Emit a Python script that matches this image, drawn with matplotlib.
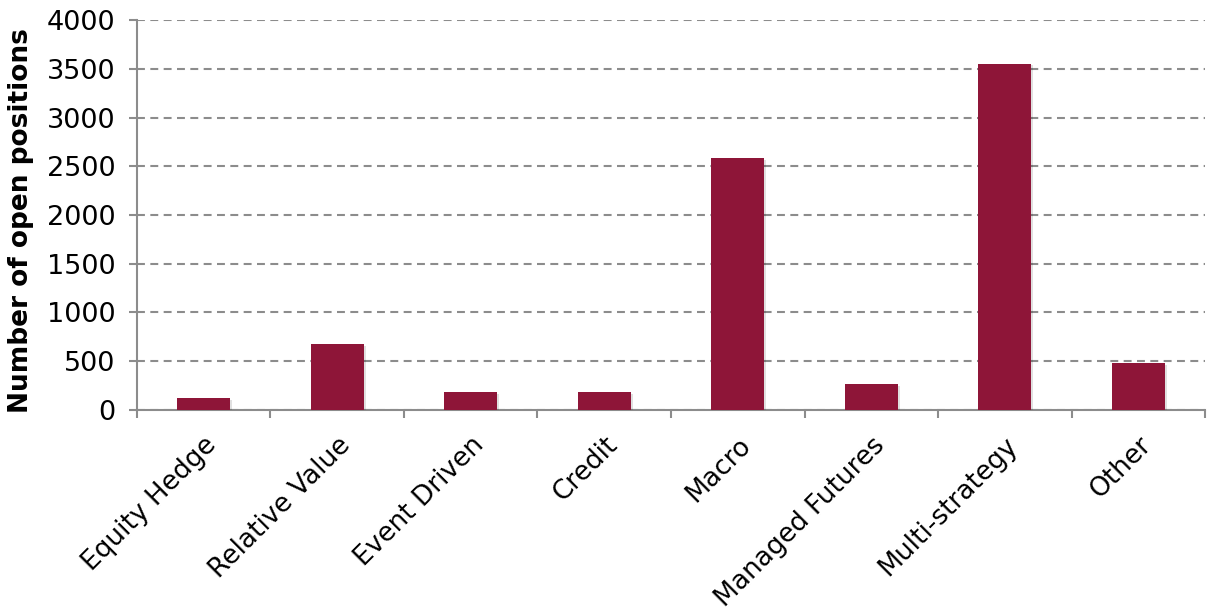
import matplotlib.pyplot as plt
import matplotlib.patheffects as pe
import numpy as np

strategies = ["Equity Hedge", "Relative Value", "Event Driven", "Credit",
              "Macro", "Managed Futures", "Multi-strategy", "Other"]
open_positions = [121, 672, 186, 184, 2583, 265, 3551, 480]

bar_color = "#8E1538"
grid_color = "#8C8C8C"

plt.rcParams['font.family'] = ['DejaVu Sans']

fig = plt.figure(figsize=(12.1, 6.1), dpi=100)
ax = fig.add_axes([0.1132, 0.3279, 0.8827, 0.6393])

x = np.arange(len(strategies))
bars = ax.bar(x, open_positions, width=0.4, color=bar_color, zorder=3)
for b in bars:
    b.set_path_effects([pe.SimplePatchShadow(offset=(1.2, -1.2), alpha=0.12, shadow_rgbFace='k'),
                        pe.Normal()])

ax.set_xlim(-0.5, len(strategies) - 0.5)
ax.set_ylim(0, 4000)
ax.set_yticks(np.arange(0, 4001, 500))
ax.yaxis.grid(True, linestyle=(0, (3.8, 2.6)), color=grid_color, linewidth=1.5, zorder=0)
ax.set_axisbelow(True)

# category boundaries carry the x ticks, labels sit at bar centres
ax.set_xticks(np.arange(-0.5, len(strategies) + 0.5, 1))
ax.set_xticklabels([])
ax.set_xticks(x, minor=True)
ax.set_xticklabels(strategies, minor=True, rotation=45, ha='right',
                   rotation_mode='anchor', fontsize=19)
ax.tick_params(axis='x', which='minor', length=0, pad=16)
ax.tick_params(axis='x', which='major', length=6, width=1.5, color=grid_color, direction='out')
ax.tick_params(axis='y', length=6, width=1.5, color=grid_color, labelsize=19.5, pad=9.5)

for side in ['top', 'right']:
    ax.spines[side].set_visible(False)
for side in ['left', 'bottom']:
    ax.spines[side].set_color(grid_color)
    ax.spines[side].set_linewidth(1.5)

ax.set_ylabel("Number of open positions", fontsize=19, fontweight='bold')
ax.yaxis.set_label_coords(-0.0964, 0.487)

fig.savefig("out.png", dpi=100)
plt.close(fig)
